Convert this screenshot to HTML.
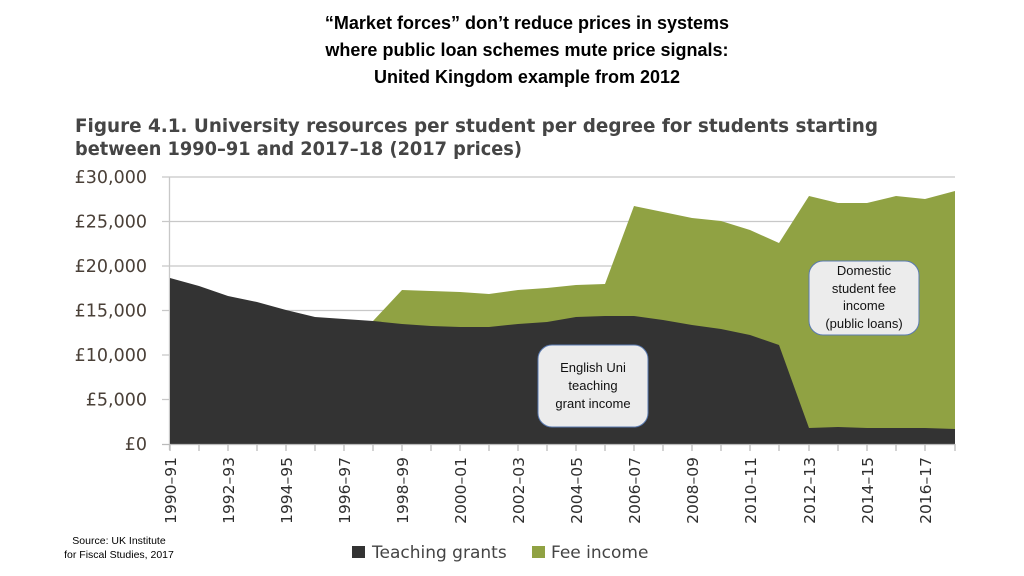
<!DOCTYPE html>
<html><head><meta charset="utf-8"><style>
body{margin:0;background:#fff;}
svg{display:block;}
</style></head><body>
<svg width="1024" height="576" xmlns="http://www.w3.org/2000/svg" font-family="Liberation Sans, sans-serif">
<rect width="1024" height="576" fill="#fff"/>
<g font-weight="bold" font-size="18" text-anchor="middle" fill="#000">
<text x="527" y="29">“Market forces” don’t reduce prices in systems</text>
<text x="527" y="56">where public loan schemes mute price signals:</text>
<text x="527" y="83">United Kingdom example from 2012</text>
</g>
<g font-family="DejaVu Sans, sans-serif" font-weight="bold" font-size="18.6" fill="#454545">
<text x="75" y="132" textLength="803" lengthAdjust="spacingAndGlyphs">Figure 4.1. University resources per student per degree for students starting</text>
<text x="75" y="155" textLength="447" lengthAdjust="spacingAndGlyphs">between 1990–91 and 2017–18 (2017 prices)</text>
</g>
<g stroke="#c8c8c8" stroke-width="1.3">
<line x1="162" y1="177" x2="955" y2="177"/>
<line x1="162" y1="221.5" x2="955" y2="221.5"/>
<line x1="162" y1="266" x2="955" y2="266"/>
<line x1="162" y1="310.5" x2="955" y2="310.5"/>
<line x1="162" y1="355" x2="955" y2="355"/>
<line x1="162" y1="399.5" x2="955" y2="399.5"/>
<line x1="169.5" y1="177" x2="169.5" y2="450"/>
</g>
<polygon fill="#90a243" points="373,321 402,290 431,291 460,292 489,294 518,290 547,288 576,285 605,284 634,206 663,212 692,218 721,221 750,230 779,243 809,196 838,203 867,203 896,196 925,199 955,191 955,444.5 373,444.5"/>
<polygon fill="#333333" points="170,278 199,286 228,296 257,302 286,310 315,317 344,319 373,321 402,324 431,326 460,327 489,327 518,324 547,322 576,317 605,316 634,316 663,320 692,325 721,329 750,335 779,345 809,428 838,427 867,428 896,428 925,428 955,429 955,444.5 170,444.5"/>
<line x1="162" y1="444.5" x2="955" y2="444.5" stroke="#bbb" stroke-width="1.3"/>
<g font-family="DejaVu Sans, sans-serif" font-size="17.5" fill="#4a4038" text-anchor="end">
<text x="147" y="183">£30,000</text>
<text x="147" y="227.5">£25,000</text>
<text x="147" y="272">£20,000</text>
<text x="147" y="316.5">£15,000</text>
<text x="147" y="361">£10,000</text>
<text x="147" y="405.5">£5,000</text>
<text x="147" y="450">£0</text>
</g>
<g stroke="#bbb" stroke-width="1.3">
<line x1="170" y1="444" x2="170" y2="451"/><line x1="199" y1="444" x2="199" y2="451"/><line x1="228" y1="444" x2="228" y2="451"/><line x1="257" y1="444" x2="257" y2="451"/><line x1="286" y1="444" x2="286" y2="451"/><line x1="315" y1="444" x2="315" y2="451"/><line x1="344" y1="444" x2="344" y2="451"/><line x1="373" y1="444" x2="373" y2="451"/><line x1="402" y1="444" x2="402" y2="451"/><line x1="431" y1="444" x2="431" y2="451"/><line x1="460" y1="444" x2="460" y2="451"/><line x1="489" y1="444" x2="489" y2="451"/><line x1="518" y1="444" x2="518" y2="451"/><line x1="547" y1="444" x2="547" y2="451"/><line x1="576" y1="444" x2="576" y2="451"/><line x1="605" y1="444" x2="605" y2="451"/><line x1="634" y1="444" x2="634" y2="451"/><line x1="663" y1="444" x2="663" y2="451"/><line x1="692" y1="444" x2="692" y2="451"/><line x1="721" y1="444" x2="721" y2="451"/><line x1="750" y1="444" x2="750" y2="451"/><line x1="779" y1="444" x2="779" y2="451"/><line x1="809" y1="444" x2="809" y2="451"/><line x1="838" y1="444" x2="838" y2="451"/><line x1="867" y1="444" x2="867" y2="451"/><line x1="896" y1="444" x2="896" y2="451"/><line x1="925" y1="444" x2="925" y2="451"/><line x1="955" y1="444" x2="955" y2="451"/>
</g>
<g font-family="DejaVu Sans, sans-serif" font-size="15.5" fill="#2e2e2e" text-anchor="end">
<text transform="translate(176,457) rotate(-90)">1990–91</text>
<text transform="translate(234,457) rotate(-90)">1992–93</text>
<text transform="translate(292,457) rotate(-90)">1994–95</text>
<text transform="translate(350,457) rotate(-90)">1996–97</text>
<text transform="translate(408,457) rotate(-90)">1998–99</text>
<text transform="translate(466,457) rotate(-90)">2000–01</text>
<text transform="translate(524,457) rotate(-90)">2002–03</text>
<text transform="translate(582,457) rotate(-90)">2004–05</text>
<text transform="translate(640,457) rotate(-90)">2006–07</text>
<text transform="translate(698,457) rotate(-90)">2008–09</text>
<text transform="translate(756,457) rotate(-90)">2010–11</text>
<text transform="translate(815,457) rotate(-90)">2012–13</text>
<text transform="translate(873,457) rotate(-90)">2014–15</text>
<text transform="translate(931,457) rotate(-90)">2016–17</text>
</g>
<rect x="538" y="345" width="110" height="82" rx="14" fill="#ececec" stroke="#5a7ab0" stroke-width="1"/>
<g font-size="13" fill="#111" text-anchor="middle">
<text x="593" y="372">English Uni</text>
<text x="593" y="390">teaching</text>
<text x="593" y="408">grant income</text>
</g>
<rect x="809" y="261" width="110" height="74" rx="14" fill="#ececec" stroke="#5a7ab0" stroke-width="1"/>
<g font-size="13" fill="#111" text-anchor="middle">
<text x="864" y="275">Domestic</text>
<text x="864" y="293">student fee</text>
<text x="864" y="310">income</text>
<text x="864" y="328">(public loans)</text>
</g>
<rect x="352" y="546" width="13" height="12" fill="#333"/>
<text x="372" y="558" font-family="DejaVu Sans, sans-serif" font-size="17" fill="#444">Teaching grants</text>
<rect x="532" y="546" width="13" height="12" fill="#90a243"/>
<text x="551" y="558" font-family="DejaVu Sans, sans-serif" font-size="17" fill="#444">Fee income</text>
<g font-size="10.5" fill="#000" text-anchor="middle">
<text x="119" y="544">Source: UK Institute</text>
<text x="119" y="558">for Fiscal Studies, 2017</text>
</g>
</svg>
</body></html>
